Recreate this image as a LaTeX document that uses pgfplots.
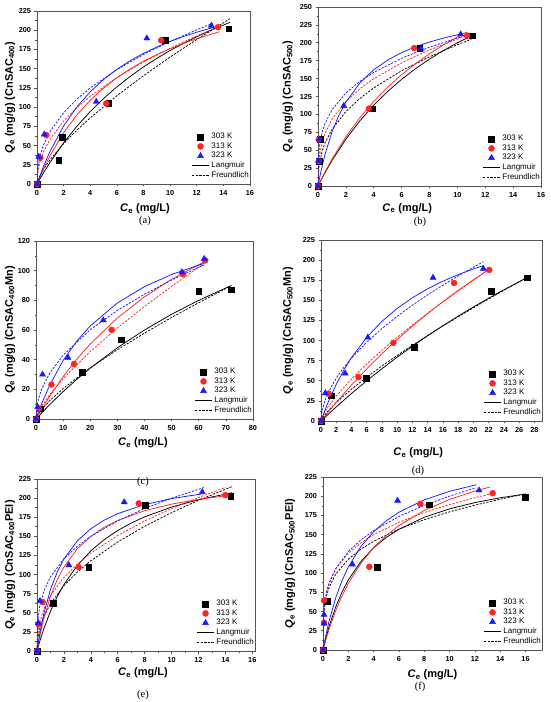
\documentclass[border=0pt]{standalone}
\usepackage{pgfplots}
\pgfplotsset{compat=1.18}
\usepackage{fontspec}
\setmainfont{Liberation Sans}
\newfontfamily\seriffont{Liberation Serif}
\definecolor{myred}{RGB}{255,35,35}
\definecolor{myblue}{RGB}{25,25,255}
\definecolor{framec}{RGB}{85,85,85}
\pgfplotsset{
 panel/.style={
  scale only axis, anchor=south west,
  xmin=0, ymin=0,
  axis line style={framec, line width=0.8pt},
  tick style={framec, line width=0.6pt},
  tick align=outside,
  major tick length=2.5pt, minor tick length=1.5pt,
  minor x tick num=1, minor y tick num=1,
  xtick pos=left, ytick pos=left,
  ticklabel style={font=\fontsize{7.3}{8}\selectfont\bfseries},
  /pgf/number format/assume math mode=true,
  /pgf/number format/1000 sep={},
  label style={font=\fontsize{11}{12}\selectfont\bfseries},
  xlabel={\textit{C}\textsubscript{e} (mg/L)},
  legend style={draw=none, fill=none, at={(1,0)}, anchor=south east, font=\fontsize{8}{9}\selectfont, row sep=-1.6pt, inner sep=1pt, xshift=2pt, yshift=2pt},
  legend cell align=left,
 },
 lg/.style={line width=0.75pt, forget plot},
 fr/.style={line width=0.75pt, dash pattern=on 2.2pt off 1.4pt, forget plot},
 s303/.style={only marks, mark=square*, black, mark size=2.9pt},
 s313/.style={only marks, mark=*, myred, mark size=3pt},
 s323/.style={only marks, mark=triangle*, myblue, mark size=3.5pt},
}
\newcommand{\legendtail}{%
 \addlegendimage{black, line width=0.75pt}\addlegendentry{Langmuir}
 \addlegendimage{black, line width=0.75pt, dash pattern=on 2.2pt off 1.4pt}\addlegendentry{Freundlich}}
\begin{document}
\begin{tikzpicture}
\useasboundingbox (0,0) rectangle (550pt,702pt);
% ---------------- (a)
\begin{axis}[panel, at={(37pt,518pt)}, width=213pt, height=173pt,
 xmax=16, ymax=225, xtick={0,2,...,16}, ytick={0,25,...,225},
 xlabel style={at={(axis description cs:0.507,-0.145)}, anchor=center},
 ylabel style={at={(axis description cs:-0.127,0.5)}, anchor=center},
 ylabel={\textit{Q}\textsubscript{e} (mg/g) (CnSAC\textsubscript{400})}]
\addplot[lg,black] coordinates {(0,0)(0.5,14.87)(1,28.66)(2,53.46)(3,75.12)(4,94.21)(5,111.15)(6,126.29)(7,139.91)(8,152.22)(9,163.4)(10,173.6)(11,182.9)(12,191.5)(13,199.5)(14.5,210.3)};
\addplot[fr,black] coordinates {(0,0)(0.1,6.23)(0.5,19.59)(1,32.07)(2,52.5)(3,70.07)(4,86.0)(6,114.8)(8,140.8)(10,165.1)(12,187.9)(14.5,215.0)};
\addplot[lg,myred] coordinates {(0,0)(0.5,20.01)(1,37.51)(2,66.65)(3,89.93)(4,108.97)(5,124.82)(6,138.22)(7,149.71)(8,159.66)(9,168.36)(10,176.04)(11,182.86)(12,188.96)(13.7,197.98)};
\addplot[fr,myred] coordinates {(0,0)(0.05,14.1)(0.2,27.35)(0.5,42.3)(1,58.9)(2,81.96)(3,99.4)(4,114.06)(6,138.4)(8,158.7)(10,176.5)(12,192.6)(13.7,205.1)};
\addplot[lg,myblue] coordinates {(0,0)(0.5,23.41)(1,43.34)(2,75.46)(3,100.23)(4,119.9)(5,135.9)(6,149.2)(7,160.4)(8,169.9)(9,178.2)(10,185.4)(11,191.8)(12,197.4)(13.3,203.9)};
\addplot[fr,myblue] coordinates {(0,0)(0.05,18.95)(0.2,34.4)(0.5,51.05)(1,68.8)(2,92.7)(3,110.4)(4,125.0)(6,148.8)(8,168.4)(10,185.4)(12,200.5)(13.2,208.9)};
\addplot[s303] coordinates {(0,0)(1.63,31.2)(1.88,61)(5.38,104.7)(9.63,186.5)(14.4,202)};
\addlegendentry{303 K}
\addplot[s313] coordinates {(0,0)(0.25,34)(0.7,63.6)(5.2,104.7)(9.33,187)(13.6,204)};
\addlegendentry{313 K}
\addplot[s323] coordinates {(0,0)(0.125,35.5)(0.55,64.5)(4.45,107)(8.25,189.5)(13.1,206)};
\addlegendentry{323 K}
\legendtail
\end{axis}
% ---------------- (b)
\begin{axis}[panel, at={(318pt,516pt)}, width=223pt, height=179pt,
 xmax=16, ymax=250, xtick={0,2,...,16}, ytick={0,25,...,250},
 xlabel style={at={(axis description cs:0.40,-0.125)}, anchor=center},
 ylabel style={at={(axis description cs:-0.135,0.5)}, anchor=center},
 ylabel={\textit{Q}\textsubscript{e} (mg/g) (CnSAC\textsubscript{500})}]
\addplot[lg,black] coordinates {(0,0)(0.5,18.57)(1,35.54)(2,65.43)(3,90.92)(4,112.92)(5,132.09)(6,148.95)(7,163.89)(8,177.22)(9,189.19)(10,200)(11,209.8)};
\addplot[fr,black] coordinates {(0,0)(0.02,16.6)(0.1,31.56)(0.3,48.86)(0.5,59.9)(1,78.9)(2,103.97)(3,122.2)(4,137.0)(6,161.0)(8,180.5)(10,197.3)(11,204.9)};
\addplot[lg,myred] coordinates {(0,0)(0.5,19.55)(1,37.38)(2,68.68)(3,95.28)(4,118.16)(5,138.05)(6,155.5)(7,170.93)(8,184.68)(9,197.0)(10,208.1)(10.7,215.3)};
\addplot[fr,myred] coordinates {(0,0)(0.02,24.2)(0.1,42.1)(0.3,61.5)(0.5,73.3)(1,93)(2,118.0)(3,135.7)(4,149.8)(6,172.1)(8,190.1)(10,205.2)(10.7,210.0)};
\addplot[lg,myblue] coordinates {(0,0)(0.2,19.49)(0.5,43.87)(1,75.25)(1.5,98.81)(2,117.15)(3,143.85)(4,162.35)(5,175.92)(6,186.3)(7,194.5)(8,201.1)(9,206.6)(10.24,212.2)};
\addplot[fr,myblue] coordinates {(0,0)(0.02,34.4)(0.1,54.75)(0.3,75.2)(0.5,87.1)(1,106.4)(2,130.0)(3,146.1)(4,158.7)(6,178.4)(8,193.9)(10.2,207.9)};
\addplot[s303] coordinates {(0,0)(0.1,35)(0.17,65)(3.89,108)(7.29,192)(11.08,210)};
\addlegendentry{303 K}
\addplot[s313] coordinates {(0,0)(0.05,34.5)(0.05,65)(3.65,108)(6.9,192.6)(10.7,210)};
\addlegendentry{313 K}
\addplot[s323] coordinates {(0,0)(0.05,35)(0.1,65)(1.85,112)(7.4,191.7)(10.24,211.8)};
\addlegendentry{323 K}
\legendtail
\end{axis}
% ---------------- (c)
\begin{axis}[panel, at={(36pt,283pt)}, width=217pt, height=178pt,
 xmax=80, ymax=120, xtick={0,10,...,80}, ytick={0,20,...,120},
 xlabel style={at={(axis description cs:0.493,-0.135)}, anchor=center},
 ylabel style={at={(axis description cs:-0.12,0.5)}, anchor=center},
 ylabel={\textit{Q}\textsubscript{e} (mg/g) (CnSAC\textsubscript{400}Mn)}]
\addplot[lg,black] coordinates {(0,0)(5,9.6)(10,18.46)(15,26.67)(20,34.29)(30,48.0)(40,60.0)(50,70.6)(60,80.0)(72,90.0)};
\addplot[fr,black] coordinates {(0,0)(0.5,2.19)(2,6.17)(5,12.24)(10,20.55)(20,34.5)(30,46.7)(40,57.9)(50,68.5)(60,78.4)(72,89.9)};
\addplot[lg,myred] coordinates {(0,0)(5,15.25)(10,28.54)(15,40.23)(20,50.58)(30,68.1)(40,82.37)(50,94.22)(62,106.0)};
\addplot[fr,myred] coordinates {(0,0)(0.5,2.99)(2,8.31)(5,16.34)(10,27.26)(20,45.48)(30,61.35)(40,75.87)(50,89.47)(62,104.85)};
\addplot[lg,myblue] coordinates {(0,0)(2,9.9)(5,22.58)(10,39.4)(15,52.4)(20,62.77)(30,78.24)(40,89.24)(50,97.46)(62,104.94)};
\addplot[fr,myblue] coordinates {(0,0)(0.2,6.49)(0.5,10.1)(1,14.13)(2,19.76)(5,30.78)(10,43.03)(20,60.17)(30,73.2)(40,84.1)(50,93.7)(62,104.0)};
\addplot[s303] coordinates {(0,0)(1.46,7)(16.9,31.3)(31.4,53.4)(60,86.2)(72.1,87.1)};
\addlegendentry{303 K}
\addplot[s313] coordinates {(0,0)(1.1,7)(5.7,23.2)(14,37.1)(27.9,60.1)(54.2,97.7)(62.4,107)};
\addlegendentry{313 K}
\addplot[s323] coordinates {(0,0)(0.6,8.1)(2.4,30)(11.8,41.4)(24.8,66.6)(53.8,99)(62,108)};
\addlegendentry{323 K}
\legendtail
\end{axis}
% ---------------- (d)
\begin{axis}[panel, at={(321pt,281pt)}, width=221pt, height=181pt,
 xmax=29, ymax=225, xtick={0,2,...,28}, ytick={0,25,...,225},
 xlabel style={at={(axis description cs:0.44,-0.175)}, anchor=center},
 ylabel style={at={(axis description cs:-0.149,0.5)}, anchor=center},
 ylabel={\textit{Q}\textsubscript{e} (mg/g) (CnSAC\textsubscript{500}Mn)}]
\addplot[lg,black] coordinates {(0,0)(2,17.55)(4,34.2)(6,50.0)(8,65.04)(10,79.36)(12,93.0)(14,106.0)(16,118.46)(18,130.36)(20,141.75)(22,152.65)(24,163.12)(27,178.0)};
\addplot[fr,black] coordinates {(0,0)(0.2,3.75)(0.5,7.7)(1,13.3)(2,22.96)(4,39.6)(6,54.5)(8,68.4)(10,81.5)(12,94.1)(14,106.3)(16,118.1)(18,129.5)(20,140.7)(22,151.7)(24,162.5)(27,178.3)};
\addplot[lg,myred] coordinates {(0,0)(2,23.13)(4,44.69)(6,64.82)(8,83.67)(10,101.35)(12,117.97)(14,133.63)(16,148.39)(18,162.34)(20,175.55)(22,188.07)};
\addplot[fr,myred] coordinates {(0,0)(0.2,5.5)(0.5,10.94)(1,18.42)(2,31.0)(4,52.2)(6,70.8)(8,87.9)(10,104.0)(12,119.3)(14,133.9)(16,148.1)(18,161.8)(20,175.1)(22,188.1)};
\addplot[lg,myblue] coordinates {(0,0)(0.5,12.9)(1,24.7)(2,45.53)(3,63.34)(4,78.73)(6,104.02)(8,123.92)(10,139.99)(12,153.24)(14,164.34)(16,173.79)(18,181.93)(20,189.0)(21.3,193.1)};
\addplot[fr,myblue] coordinates {(0,0)(0.1,10.1)(0.5,24.68)(1,36.26)(2,53.27)(3,66.7)(4,78.27)(6,98.0)(8,115.0)(10,130.1)(12,144.0)(14,156.9)(16,168.9)(18,180.4)(20,191.2)(21.3,198.0)};
\addplot[s303] coordinates {(0,0)(1.35,31.4)(5.92,53.3)(12.24,91.4)(22.3,161.7)(27.05,178.2)};
\addlegendentry{303 K}
\addplot[s313] coordinates {(0,0)(1.0,34)(4.92,54.6)(9.5,97.2)(17.46,171.6)(22.08,187.8)};
\addlegendentry{313 K}
\addplot[s323] coordinates {(0,0)(0.57,34.7)(3.18,59.1)(6.14,103.8)(14.7,178.2)(21.3,189.4)};
\addlegendentry{323 K}
\legendtail
\end{axis}
% ---------------- (e)
\begin{axis}[panel, at={(37pt,51pt)}, width=218pt, height=172pt,
 xmax=16.2, ymax=225, xtick={0,2,...,16}, ytick={0,25,...,225},
 xlabel style={at={(axis description cs:0.486,-0.128)}, anchor=center},
 ylabel style={at={(axis description cs:-0.124,0.5)}, anchor=center},
 ylabel={\textit{Q}\textsubscript{e} (mg/g) (CnSAC\textsubscript{400}PEI)}]
\addplot[lg,black] coordinates {(0,0)(0.25,15.22)(0.5,28.8)(1,51.97)(1.5,71.0)(2,86.93)(3,112.07)(4,131.0)(5,145.8)(6,157.65)(7,167.37)(8,175.5)(10,188.28)(12,197.9)(14.5,207.0)};
\addplot[fr,black] coordinates {(0,0)(0.05,15.3)(0.2,29.2)(0.5,44.8)(1,61.9)(2,85.5)(3,103.3)(4,118.1)(6,142.7)(8,163.1)(10,181.0)(12,197.1)(14.5,215.2)};
\addplot[lg,myred] coordinates {(0,0)(0.1,9.83)(0.25,23.14)(0.5,42.15)(1,71.55)(1.5,93.22)(2,109.85)(3,133.71)(4,150.0)(5,161.83)(6,170.81)(8,183.54)(10,192.13)(12,198.3)(14,203.0)};
\addplot[fr,myred] coordinates {(0,0)(0.05,21.2)(0.2,37.5)(0.5,54.6)(1,72.5)(2,96.3)(3,113.8)(4,128.0)(6,151.1)(8,170.1)(10,186.4)(12,200.8)(14,213.9)};
\addplot[lg,myblue] coordinates {(0,0)(0.1,11.54)(0.25,26.9)(0.5,48.36)(1,80.42)(1.5,103.23)(2,120.29)(3,144.11)(4,159.94)(5,171.23)(6,179.69)(8,191.51)(10,199.38)(12.4,205.9)};
\addplot[fr,myblue] coordinates {(0,0)(0.05,37.9)(0.2,58.5)(0.5,78.0)(1,97)(2,120.6)(3,137.0)(4,149.9)(6,170.3)(8,186.4)(10,199.9)(12.4,213.8)};
\addplot[s303] coordinates {(0,0)(1.2,62.5)(3.84,109.2)(8.05,190.5)(14.4,202.7)};
\addlegendentry{303 K}
\addplot[s313] coordinates {(0,0)(0.1,35)(0.42,64)(3.1,109.7)(7.56,193)(14.0,204)};
\addlegendentry{313 K}
\addplot[s323] coordinates {(0,0)(0.1,36.7)(0.22,65.5)(2.37,112.3)(6.48,194.8)(12.28,208)};
\addlegendentry{323 K}
\legendtail
\end{axis}
% ---------------- (f)
\begin{axis}[panel, at={(323pt,52pt)}, width=219pt, height=173pt,
 xmax=17.3, ymax=225, xtick={0,2,...,16}, ytick={0,25,...,225},
 xlabel style={at={(axis description cs:0.50,-0.145)}, anchor=center},
 ylabel style={at={(axis description cs:-0.15,0.5)}, anchor=center},
 ylabel={\textit{Q}\textsubscript{e} (mg/g) (CnSAC\textsubscript{500}PEI)}]
\addplot[lg,black] coordinates {(0,0)(0.25,16.84)(0.5,31.52)(1,55.88)(1.5,75.28)(2,91.08)(3,115.29)(4,132.95)(5,146.41)(6,157.01)(8,172.64)(10,183.6)(12,191.71)(14,197.96)(16,202.9)};
\addplot[fr,black] coordinates {(0,0)(0.02,35.5)(0.1,54.0)(0.3,71.9)(0.5,82.2)(1,98.5)(2,118.0)(3,131.2)(4,141.4)(6,157.2)(8,169.5)(10,179.7)(12,188.4)(14,196.1)(16,203.1)};
\addplot[lg,myred] coordinates {(0,0)(0.25,14.75)(0.5,28.05)(1,51.08)(1.5,70.34)(2,86.68)(3,112.9)(4,133.02)(5,148.95)(6,161.87)(8,181.55)(10,195.84)(12,206.69)(13.2,212.0)};
\addplot[fr,myred] coordinates {(0,0)(0.02,39.3)(0.1,59.1)(0.3,78.0)(0.5,88.7)(1,105.7)(2,125.9)(3,139.5)(4,150.0)(6,166.2)(8,178.8)(10,189.1)(12,198.0)(13.2,202.9)};
\addplot[lg,myblue] coordinates {(0,0)(0.1,8.76)(0.25,20.88)(0.5,38.73)(1,67.66)(1.5,90.09)(2,107.99)(3,134.75)(4,153.82)(5,168.09)(6,179.17)(8,195.26)(10,206.38)(12.1,214.9)};
\addplot[fr,myblue] coordinates {(0,0)(0.02,35.6)(0.1,55.7)(0.3,75.6)(0.5,87.1)(1,105.6)(2,128.0)(3,143.3)(4,155.2)(6,173.7)(8,188.1)(10,200.2)(12.1,211.0)};
\addplot[s303] coordinates {(0,0)(0.34,63.6)(4.27,107.3)(8.38,189)(16.0,198.6)};
\addlegendentry{303 K}
\addplot[s313] coordinates {(0,0)(0.08,35.5)(0.08,64.5)(3.66,108.2)(7.69,190)(13.4,204)};
\addlegendentry{313 K}
\addplot[s323] coordinates {(0,0)(0.08,34.6)(0.08,46)(2.33,111.2)(5.89,194.3)(12.33,207.7)};
\addlegendentry{323 K}
\legendtail
\end{axis}
% captions
\node[font=\seriffont\fontsize{10.5}{12}\selectfont] at (145pt,481pt) {(a)};
\node[font=\seriffont\fontsize{10.5}{12}\selectfont] at (420pt,480pt) {(b)};
\node[font=\seriffont\fontsize{10.5}{12}\selectfont] at (143pt,220pt) {(c)};
\node[font=\seriffont\fontsize{10.5}{12}\selectfont] at (418pt,231pt) {(d)};
\node[font=\seriffont\fontsize{10.5}{12}\selectfont] at (143pt,7pt) {(e)};
\node[font=\seriffont\fontsize{10.5}{12}\selectfont] at (420pt,15pt) {(f)};
\end{tikzpicture}
\end{document}
